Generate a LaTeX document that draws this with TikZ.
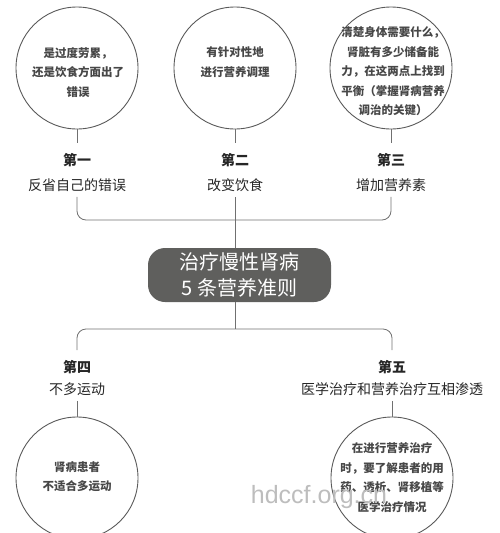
\documentclass[tikz,border=0pt]{standalone}
\usepackage{fontspec}
\setmainfont{Noto Sans CJK SC}
\setsansfont{Liberation Sans}
\definecolor{linegray}{HTML}{707070}
\definecolor{ringgray}{HTML}{5A5A5A}
\definecolor{txtgray}{HTML}{262626}
\definecolor{boxgray}{HTML}{5F5F5D}
\definecolor{markgray}{HTML}{BDBDBD}
\begin{document}
\begin{tikzpicture}[x=1pt,y=-1pt]
		    \tikzset{
   			ring/.style={draw=ringgray, line width=0.9pt, circle, minimum size=122pt, inner sep=0pt},
   			note/.style={align=center, text=txtgray!85!white, inner sep=0pt, font=\bfseries\fontsize{11.5}{19.5}\selectfont},
   			tag/.style={align=center, text=txtgray, inner xsep=2pt, inner ysep=5pt, font=\fontsize{14}{25}\selectfont},
   			tagb/.style={tag, font=\fontsize{14}{22}\selectfont},
   			core/.style={fill=boxgray, rounded corners=17pt, minimum width=183pt, minimum height=54pt, align=center, text=white, font=\fontsize{20}{26}\selectfont},
    			link/.style={draw=linegray, line width=0.8pt}
		    }
            \useasboundingbox (0,0) rectangle (500,533);

   	        \draw node[ring] (c1) at (77,68) {};
            \draw node[ring] (c2) at (235,68) {};
            \draw node[ring] (c3) at (391,68) {};
            \draw node[ring] (c4) at (77,478) {};
            \draw node[ring] (c5) at (392,478) {};

            \draw node[note] (t1) at (78,72.5) {是过度劳累，\\还是饮食方面出了\\错误};
            \draw node[note] (t2) at (235,62) {有针对性地\\进行营养调理};
            \draw node[note] (t3) at (393,71.5) {清楚身体需要什么，\\肾脏有多少储备能\\力，在这两点上找到\\平衡（掌握肾病营养\\调治的关键）};
            \draw node[note] (t4) at (77,476.5) {肾病患者\\不适合多运动};
            \draw node[note] (t5) at (392,477.5) {在进行营养治疗\\时，要了解患者的用\\药、透析、肾移植等\\医学治疗情况};

            \draw node[tag] (l1) at (77,172.5) {\textbf{第一}\\反省自己的错误};
            \draw node[tag] (l2) at (235,172.5) {\textbf{第二}\\改变饮食};
            \draw node[tag] (l3) at (391,172.5) {\textbf{第三}\\增加营养素};
			    \draw node[tagb] (l4) at (77,378) {\textbf{第四}\\不多运动};
		        \draw node[tagb] (l5) at (392,378) {\textbf{第五}\\医学治疗和营养治疗互相渗透};

	              \draw node[core] (rule) at (239.5,275) {治疗慢性肾病\\5 条营养准则};
            \coordinate (top) at (235,220);
            \coordinate (bot) at (235,329);

            \foreach \x/\y in {%
        	    c1/l1,c2/l2,c3/l3%
    	    }{
   		 	\draw[link, shorten >=5pt] (\x) -- (\y);
   	        }
            \foreach \x/\y in {%
        	    l4/c4,l5/c5%
    	    }{
   		 	\draw[link] (\x) -- (\y);
   	        }
            \draw[link, rounded corners=9pt] (l1) |- (top) -| (l3);
            \draw[link] (l2) -- (l2 |- rule.north);
            \draw[link] (rule.south -| bot) -- (bot);
            \draw[link, rounded corners=9pt, shorten <=5pt, shorten >=5pt] (l4) |- (bot) -| (l5);

            \draw node[anchor=base, text=markgray, font=\sffamily\fontsize{25}{25}\selectfont] (mark) at (319,503) {hdccf.org.cn};
		    \end{tikzpicture}
\end{document}
